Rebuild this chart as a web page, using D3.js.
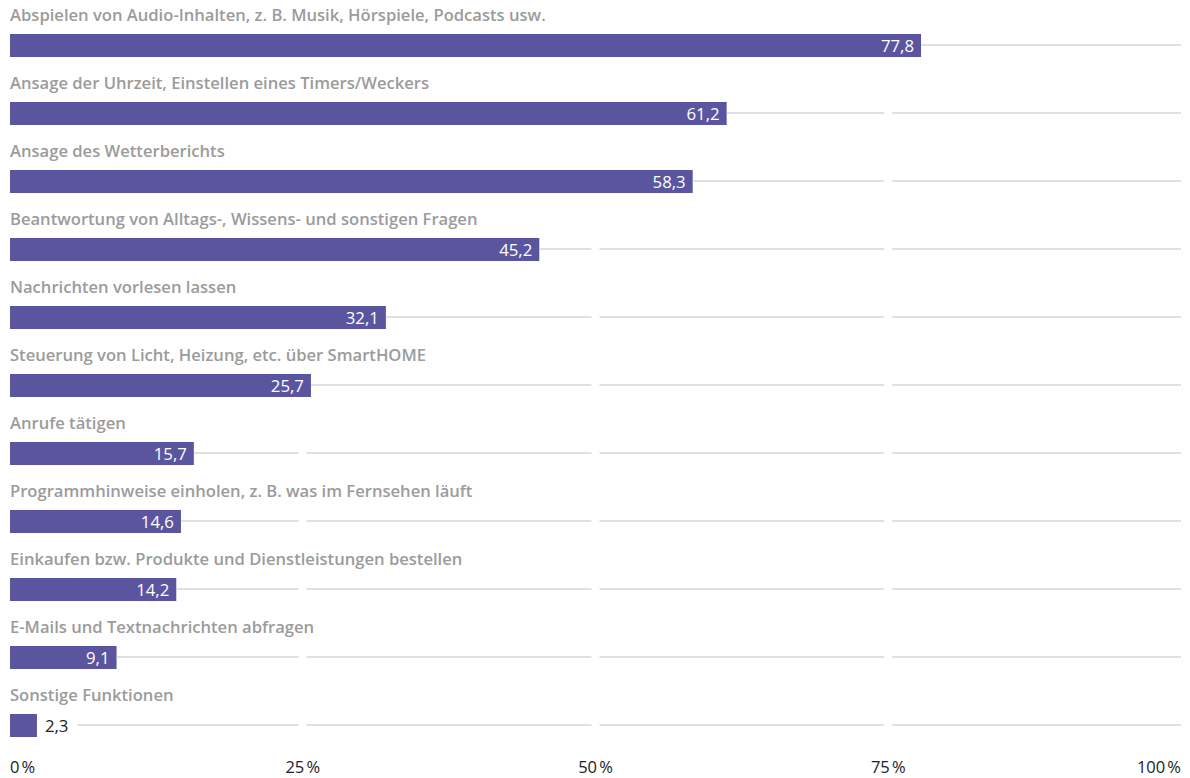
<!DOCTYPE html>
<html>
<head>
<meta charset="utf-8">
<script src="https://cdn.jsdelivr.net/npm/d3@7"></script>
<style>
  body { margin: 0; background: #fff; }
  text { font-family: "Open Sans", sans-serif; }
</style>
</head>
<body>
<svg id="chart" width="1190" height="778"></svg>
<script>
var categories = [
  "Abspielen von Audio-Inhalten, z. B. Musik, Hörspiele, Podcasts usw.",
  "Ansage der Uhrzeit, Einstellen eines Timers/Weckers",
  "Ansage des Wetterberichts",
  "Beantwortung von Alltags-, Wissens- und sonstigen Fragen",
  "Nachrichten vorlesen lassen",
  "Steuerung von Licht, Heizung, etc. über SmartHOME",
  "Anrufe tätigen",
  "Programmhinweise einholen, z. B. was im Fernsehen läuft",
  "Einkaufen bzw. Produkte und Dienstleistungen bestellen",
  "E-Mails und Textnachrichten abfragen",
  "Sonstige Funktionen"
];
var values = [77.8, 61.2, 58.3, 45.2, 32.1, 25.7, 15.7, 14.6, 14.2, 9.1, 2.3];
var ticks = [0, 25, 50, 75, 100];
var tickLabels = ["0\u202f%", "25\u202f%", "50\u202f%", "75\u202f%", "100\u202f%"];

var svg = d3.select("#chart");

var x = d3.scaleLinear().domain([0, 100]).range([10, 1181]);
var y = d3.scaleBand().domain(d3.range(categories.length))
    .range([0, 68 * categories.length]).paddingInner(0).paddingOuter(0);

var barTop = 34, barH = 23;
var fmt = function(v) { return d3.format(".1f")(v).replace(".", ","); };

var rows = svg.append("g").selectAll("g")
    .data(values)
    .enter().append("g")
      .attr("transform", function(d, i) { return "translate(0," + y(i) + ")"; });

rows.append("text")
    .attr("x", x(0))
    .attr("y", barTop - 13)
    .attr("fill", "#9b9b9b")
    .attr("font-weight", 600)
    .style("font-size", "16.6px")
    .text(function(d, i) { return categories[i]; });

rows.append("rect")
    .attr("x", x(0))
    .attr("y", barTop)
    .attr("width", function(d) { return x(d) - x(0); })
    .attr("height", barH)
    .attr("fill", "#5b55a0");

rows.each(function(d) {
  var g = d3.select(this);
  var t = g.append("text")
      .attr("y", barTop + barH / 2)
      .attr("dy", ".36em")
      .style("font-size", "16.8px")
      .text(fmt(d));
  var w = t.node().getComputedTextLength();
  var lineStart;
  if (x(d) - x(0) > w + 12) {
    t.attr("x", x(d) - 7).attr("text-anchor", "end").attr("fill", "#fff");
    lineStart = x(d);
  } else {
    t.attr("x", x(d) + 8).attr("text-anchor", "start").attr("fill", "#222");
    lineStart = x(d) + 8 + w + 9;
  }
  // gridline broken at the inner ticks
  var cuts = [lineStart];
  [25, 50, 75].forEach(function(tk) {
    cuts.push(x(tk) - 4, x(tk) + 4);
  });
  cuts.push(x(100));
  for (var k = 0; k < cuts.length; k += 2) {
    var a = Math.max(cuts[k], lineStart), b = cuts[k + 1];
    if (b > a) {
      g.append("line")
          .attr("x1", a).attr("x2", b)
          .attr("y1", barTop + barH / 2 - 0.5).attr("y2", barTop + barH / 2 - 0.5)
          .attr("stroke", "#c4c4c4")
          .attr("stroke-width", 1.2);
    }
  }
});

svg.append("g").selectAll("text")
    .data(ticks)
    .enter().append("text")
      .attr("x", function(d) { return x(d); })
      .attr("y", 773)
      .attr("text-anchor", function(d, i) { return i === 0 ? "start" : (i === ticks.length - 1 ? "end" : "middle"); })
      .attr("fill", "#222")
      .style("font-size", "16.5px")
      .text(function(d, i) { return tickLabels[i]; });
</script>
</body>
</html>
